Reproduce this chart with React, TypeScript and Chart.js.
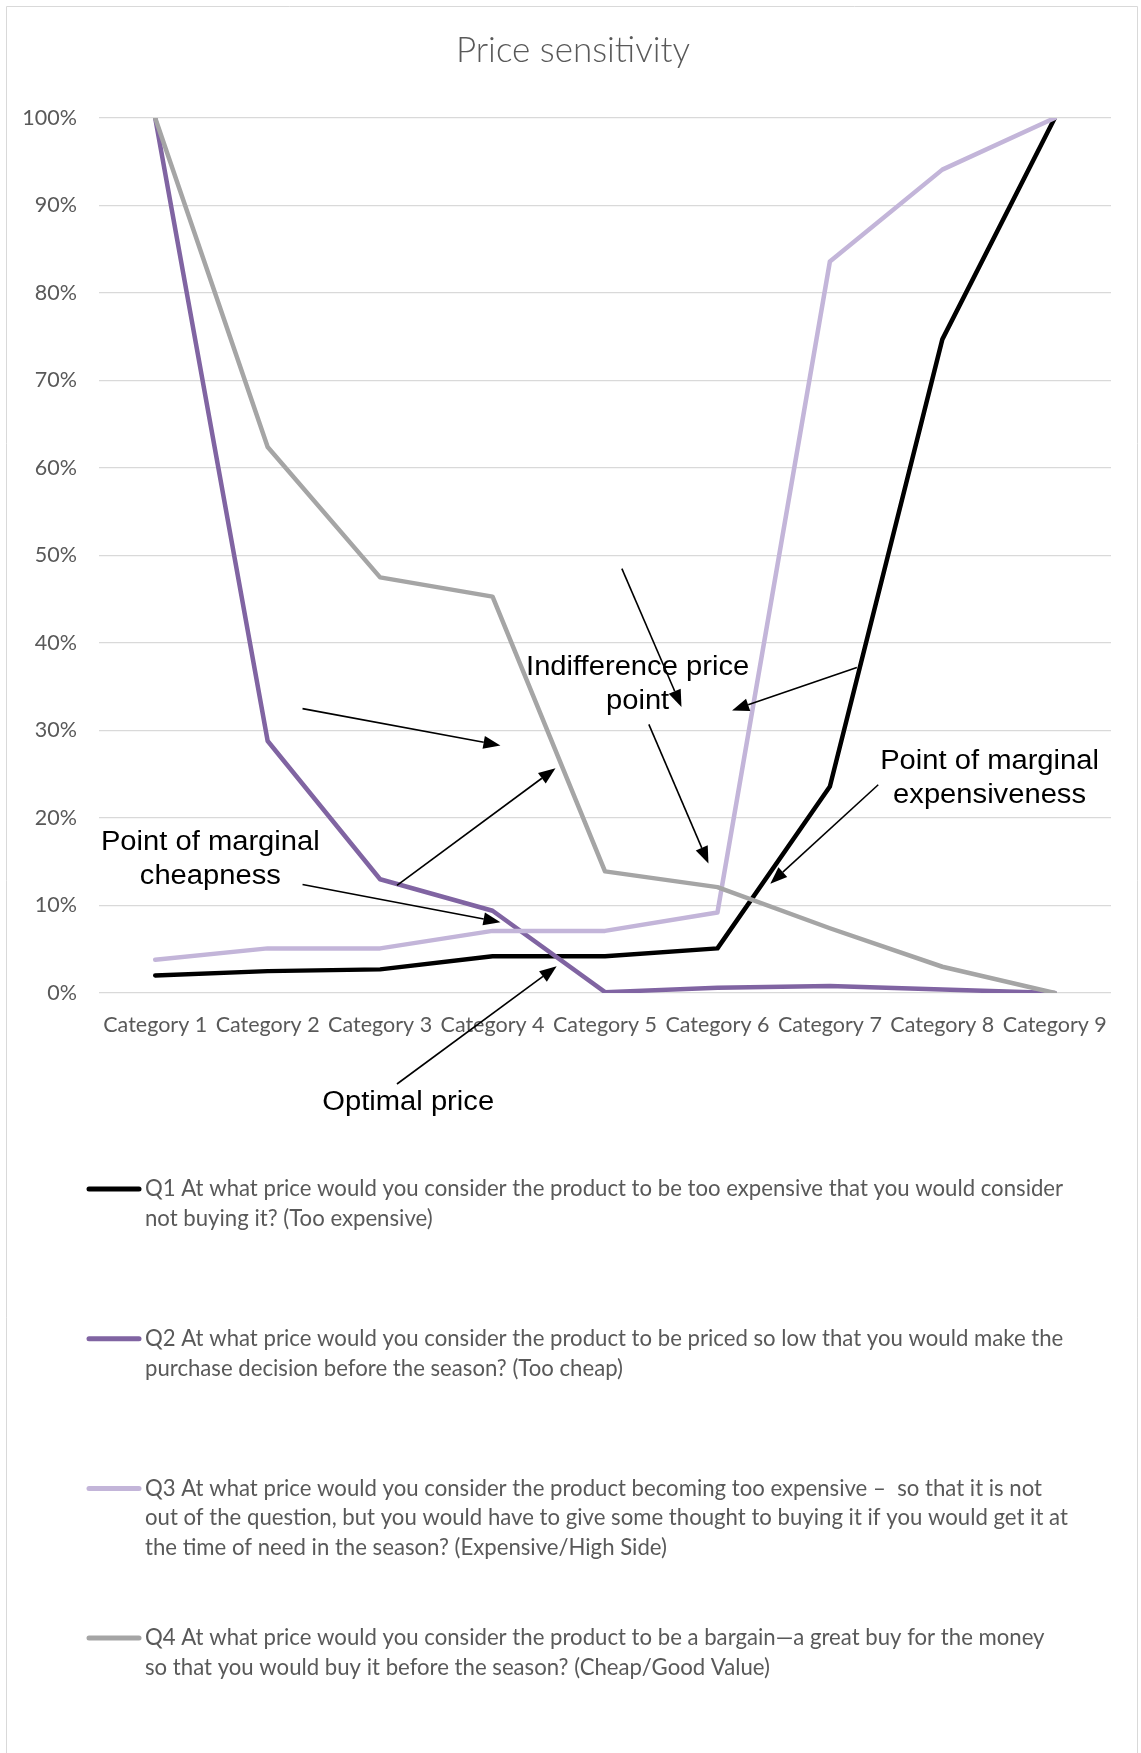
import React, { useEffect, useRef } from "react";
import { Chart, registerables } from "chart.js";

Chart.register(...registerables);

// ---- data -----------------------------------------------------------------
const categories = [
  "Category 1", "Category 2", "Category 3", "Category 4", "Category 5",
  "Category 6", "Category 7", "Category 8", "Category 9",
];

// share of respondents (%) per price category
const tooExpensive = [2.0, 2.5, 2.7, 4.2, 4.2, 5.1, 23.6, 74.7, 100];
const tooCheap = [100, 28.8, 13.0, 9.4, 0.1, 0.6, 0.8, 0.4, 0];
const expensiveHighSide = [3.8, 5.1, 5.1, 7.1, 7.1, 9.2, 83.6, 94.1, 100];
const bargain = [100, 62.4, 47.5, 45.3, 13.9, 12.1, 7.4, 3.0, 0];

const yTicks = [0, 10, 20, 30, 40, 50, 60, 70, 80, 90, 100];

const seriesNames = [
  ["Q1 At what price would you consider the product to be too expensive that you would consider",
   "not buying it? (Too expensive)"],
  ["Q2 At what price would you consider the product to be priced so low that you would make the",
   "purchase decision before the season? (Too cheap)"],
  ["Q3 At what price would you consider the product becoming too expensive \u2013  so that it is not",
   "out of the question, but you would have to give some thought to buying it if you would get it at",
   "the time of need in the season? (Expensive/High Side)"],
  ["Q4 At what price would you consider the product to be a bargain\u2014a great buy for the money",
   "so that you would buy it before the season? (Cheap/Good Value)"],
];

const chartTitle = "Price sensitivity";

// callout texts, anchored in data space (category index, percent)
const calloutTexts = [
  { lines: ["Indifference price", "point"], at: [4.29, 37.2] },
  { lines: ["Point of marginal", "cheapness"], at: [0.49, 17.2] },
  { lines: ["Point of marginal", "expensiveness"], at: [7.42, 26.5] },
  { lines: ["Optimal price"], at: [2.25, -12.5] },
];

// callout arrows: [fromIndex, fromPct, toIndex, toPct]
const calloutArrows = [
  [1.31, 32.5, 3.07, 28.3],
  [2.15, 12.3, 3.56, 25.7],
  [1.31, 12.4, 3.07, 8.1],
  [2.15, -10.4, 3.57, 3.05],
  [4.15, 48.5, 4.68, 32.7],
  [6.24, 37.2, 5.13, 32.3],
  [4.39, 30.7, 4.92, 14.8],
  [6.43, 23.8, 5.47, 12.5],
];

// ---- styles ---------------------------------------------------------------
const COLORS = ["#000000", "#8064a2", "#c3b5d9", "#a5a5a5"];
const TEXT_GRAY = "#595959";
const UI_FONT = "Lato, 'Open Sans', sans-serif";
const CALLOUT_FONT = "'Liberation Sans', Arial, sans-serif";

function drawStretched(
  ctx: CanvasRenderingContext2D,
  text: string,
  x: number,
  y: number,
  font: string,
  color: string,
  align: CanvasTextAlign,
  stretch: number
) {
  ctx.save();
  ctx.font = font;
  ctx.fillStyle = color;
  ctx.textBaseline = "middle";
  ctx.textAlign = align;
  ctx.translate(x, y);
  ctx.scale(stretch, 1);
  ctx.fillText(text, 0, 0);
  ctx.restore();
}

const decorations = {
  id: "decorations",
  afterDraw(chart: any) {
    const { ctx, width, height } = chart;
    const xs = chart.scales.x;
    const ys = chart.scales.y;

    // outer frame
    ctx.save();
    ctx.strokeStyle = "#d9d9d9";
    ctx.lineWidth = 1;
    ctx.beginPath();
    ctx.moveTo(6.5, height + 2);
    ctx.lineTo(6.5, 6.5);
    ctx.lineTo(width - 3.5, 6.5);
    ctx.lineTo(width - 3.5, height + 2);
    ctx.stroke();
    ctx.restore();

    // title
    drawStretched(ctx, chartTitle, 573, 51, `300 35px ${UI_FONT}`, TEXT_GRAY, "center", 1.0);

    // callout arrows
    ctx.save();
    ctx.strokeStyle = "#000";
    ctx.fillStyle = "#000";
    ctx.lineWidth = 1.6;
    calloutArrows.forEach(([fi, fv, ti, tv]) => {
      const x1 = xs.getPixelForValue(fi);
      const y1 = ys.getPixelForValue(fv);
      const x2 = xs.getPixelForValue(ti);
      const y2 = ys.getPixelForValue(tv);
      const ang = Math.atan2(y2 - y1, x2 - x1);
      const headLen = 17;
      const headHalf = 6.5;
      const bx = x2 - headLen * Math.cos(ang);
      const by = y2 - headLen * Math.sin(ang);
      ctx.beginPath();
      ctx.moveTo(x1, y1);
      ctx.lineTo(bx, by);
      ctx.stroke();
      ctx.beginPath();
      ctx.moveTo(x2, y2);
      ctx.lineTo(bx + headHalf * Math.sin(ang), by - headHalf * Math.cos(ang));
      ctx.lineTo(bx - headHalf * Math.sin(ang), by + headHalf * Math.cos(ang));
      ctx.closePath();
      ctx.fill();
    });
    ctx.restore();

    // callout texts
    calloutTexts.forEach(({ lines, at }) => {
      const cx = xs.getPixelForValue(at[0]);
      const cy = ys.getPixelForValue(at[1]);
      lines.forEach((line, k) => {
        drawStretched(ctx, line, cx, cy + k * 34, `27px ${CALLOUT_FONT}`, "#000", "center", 1.08);
      });
    });

    // legend
    const legendTop = 1189;
    const itemGap = 149.7;
    const lineGap = 29.6;
    seriesNames.forEach((lines, i) => {
      const y0 = legendTop + i * itemGap;
      ctx.save();
      ctx.strokeStyle = COLORS[i];
      ctx.lineWidth = 5;
      ctx.lineCap = "round";
      ctx.beginPath();
      ctx.moveTo(89, y0);
      ctx.lineTo(139, y0);
      ctx.stroke();
      ctx.restore();
      lines.forEach((line, k) => {
        drawStretched(ctx, line, 145, y0 + k * lineGap, `22.5px ${UI_FONT}`, TEXT_GRAY, "left", 0.985);
      });
    });
  },
};

export default function App() {
  const canvasRef = useRef<HTMLCanvasElement | null>(null);

  useEffect(() => {
    document.body.style.margin = "0";
    const canvas = canvasRef.current;
    if (!canvas) return;

    const series = [tooExpensive, tooCheap, expensiveHighSide, bargain];
    const chart = new Chart(canvas, {
      type: "line",
      data: {
        labels: categories,
        datasets: series.map((values, i) => ({
          label: seriesNames[i].join(" "),
          data: values,
          borderColor: COLORS[i],
          backgroundColor: COLORS[i],
          borderWidth: 4.5,
          pointRadius: 0,
          pointHoverRadius: 0,
          tension: 0,
          fill: false,
          borderJoinStyle: "round" as const,
          borderCapStyle: "round" as const,
          order: series.length - i,
        })),
      },
      options: {
        animation: false,
        responsive: true,
        maintainAspectRatio: false,
        devicePixelRatio: 1,
        layout: {
          padding: { top: 118, right: 30, bottom: 700, left: 0 },
        },
        plugins: {
          legend: { display: false },
          title: { display: false },
          tooltip: { enabled: false },
        },
        scales: {
          x: {
            type: "category",
            offset: true,
            grid: { display: false, drawTicks: false },
            border: { display: false },
            ticks: {
              color: TEXT_GRAY,
              font: { family: UI_FONT, size: 21.5 },
              padding: 19,
              maxRotation: 0,
              autoSkip: false,
            },
            afterFit: (scale: any) => {
              scale.height = 60;
            },
          },
          y: {
            type: "linear",
            min: 0,
            max: 100,
            afterBuildTicks: (scale: any) => {
              scale.ticks = yTicks.map((v) => ({ value: v }));
            },
            grid: { color: "#d9d9d9", lineWidth: 1.3, drawTicks: false },
            border: { display: false },
            ticks: {
              color: TEXT_GRAY,
              font: { family: UI_FONT, size: 21.5 },
              padding: 22,
              callback: (v: any) => `${v}%`,
            },
            afterFit: (scale: any) => {
              scale.width = 99;
            },
          },
        },
      },
      plugins: [decorations],
    });

    return () => chart.destroy();
  }, []);

  return (
    <div style={{ position: "relative", width: 1141, height: 1753 }}>
      <canvas ref={canvasRef} />
    </div>
  );
}
